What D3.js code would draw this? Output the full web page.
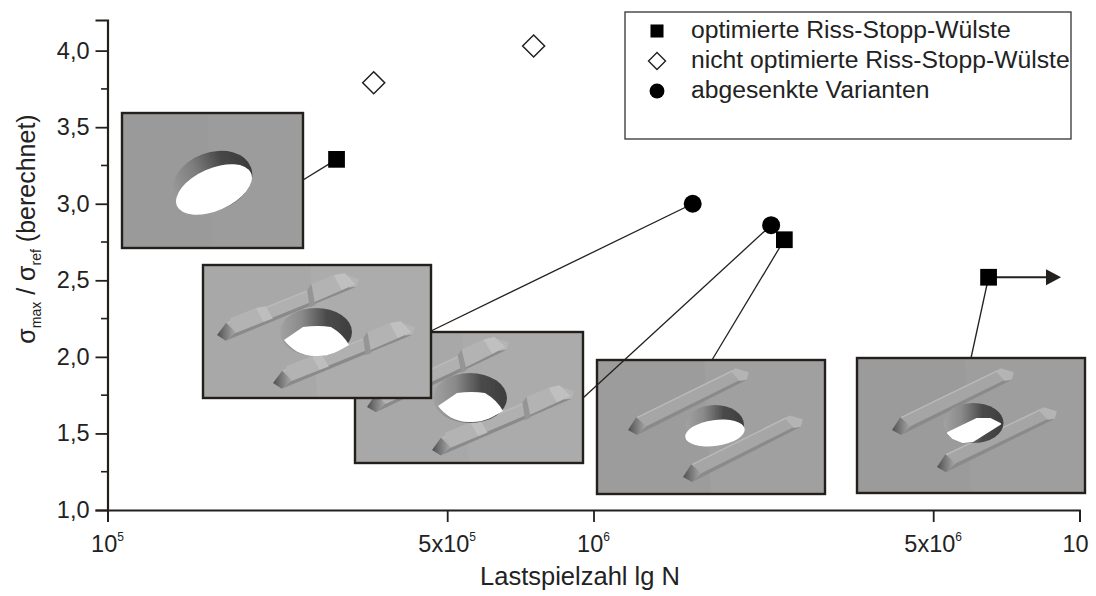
<!DOCTYPE html>
<html><head><meta charset="utf-8">
<script src="https://cdn.jsdelivr.net/npm/d3@7"></script>
<style>html,body{margin:0;padding:0;background:#fff}svg{display:block}text{font-family:"Liberation Sans",Arial,sans-serif;fill:#222}</style>
</head><body><div id="c"></div>
<script>
// ---- data ----
const squareN = [2.96e5, 2.47e6, 6.5e6];
const squareS = [3.29, 2.765, 2.52];
const diamondN = [3.53e5, 7.53e5];
const diamondS = [3.79, 4.03];
const circleN = [1.6e6, 2.32e6];
const circleS = [3.0, 2.86];
const yTicks = [1, 1.5, 2, 2.5, 3, 3.5, 4];
const yMinorTicks = [1.25, 1.75, 2.25, 2.75, 3.25, 3.75];
const xTicks = [1e5, 5e5, 1e6, 5e6, 1e7];
const xTickLabels = [["10","5"],["5x10","5"],["10","6"],["5x10","6"],["10",""]];
const legendLabels = ["optimierte Riss-Stopp-Wülste","nicht optimierte Riss-Stopp-Wülste","abgesenkte Varianten"];
const legendSymbols = ["square","diamond","circle"];

// ---- layout ----
const W = 1096, H = 596;
const svg = d3.select("#c").append("svg").attr("width",W).attr("height",H);
const x = d3.scaleLog().domain([1e5,1e7]).range([107.5,1079.5]);
const y = d3.scaleLinear().domain([1,4.2]).range([510,20]);
const dark = "#231f1c";

const defs = svg.append("defs");
const f = defs.append("filter").attr("id","soft").attr("x","-5%").attr("y","-5%").attr("width","110%").attr("height","110%");
f.append("feGaussianBlur").attr("stdDeviation",0.7);
function grad(id, stops, x2=1, y2=0){
  const g = defs.append("linearGradient").attr("id",id).attr("x1",0).attr("y1",0).attr("x2",x2).attr("y2",y2);
  stops.forEach(s=>g.append("stop").attr("offset",s[0]).attr("stop-color",s[1]));
}
grad("wall",[[0,"#a2a2a2"],[0.3,"#8a8a8a"],[0.65,"#4a4a4a"],[1,"#3e3e3e"]]);
grad("wallA",[[0,"#9a9a9a"],[0.35,"#7c7c7c"],[0.7,"#474747"],[1,"#3c3c3c"]]);
grad("cap",[[0,"#505050"],[1,"#a8a8a8"]],1,0);

// ---- pictures inside the chart ----
const whiteB = "M81,75 L100,62 Q115,60 128,62 Q140,69 146,80 C136,86 126,92 112,91 C98,91 88,84 81,75 Z";
const insets = [
 {id:"A",x:122,y:113,w:181,h:135,bg:"#9a9a9a",alt:"#9c9c9c",bars:[],pads:false,top:"#a4a4a4",
  hole:{cx:90.5,cy:68.5,rx:41,ry:29,rot:-20,wx:92,wy:76.5,wrx:40.5,wry:21,wrot:-24,fill:"wallA"}},
 {id:"C",x:355,y:332,w:228,h:131,bg:"#a8a8a8",alt:"#ababab",pads:true,top:"#b0b0b0",
  bars:[[12,75,152,11],[77,118,217,60]],
  hole:{cx:115,cy:66,rx:37,ry:25,rot:0,path:whiteB,dx:2,dy:-1,fill:"wall"}},
 {id:"B",x:203,y:265,w:228,h:133,bg:"#a8a8a8",alt:"#acacac",pads:true,top:"#b0b0b0",
  bars:[[14,70,154,15],[70,118,210,63]],
  hole:{cx:113,cy:67,rx:36,ry:24,rot:0,path:whiteB,dx:0,dy:0,fill:"wall"}},
 {id:"D",x:597,y:360,w:228,h:134,bg:"#9c9c9c",alt:"#a0a0a0",pads:false,top:"#a6a6a6",
  bars:[[31,70,150,13],[86,117,204,60]],
  hole:{cx:118,cy:65,rx:29,ry:20,rot:0,wx:118,wy:73,wrx:30,wry:13,wrot:-8,fill:"wall"}},
 {id:"E",x:857,y:358,w:228,h:135,bg:"#9b9b9b",alt:"#9e9e9e",pads:false,top:"#a5a5a5",
  bars:[[35,72,155,15],[80,109,198,54]],
  hole:{cx:116.5,cy:65,rx:30,ry:20,rot:0,slot:[[91,75],[120,61],[133,61],[143,66],[116,83],[106,84],[96,80]],fill:"wall"}}
];
function drawBar(g, b, d){
  const [x0,y0,x1,y1] = b;
  const L = Math.hypot(x1-x0,y1-y0), dx=(x1-x0)/L, dy=(y1-y0)/L, nx=dy, ny=-dx;
  const p=(t,o)=>[x0+dx*t+nx*o, y0+dy*t+ny*o];
  const poly=(pts,fill)=>g.append("polygon").attr("points",pts.join(" ")).attr("fill",fill);
  poly([p(6,-8.5),p(L-3,-6),p(L-3,-3),p(18,-4.5)],"#8a8a8a");         // long side
  poly([p(18,-4.5),p(L-3,-3),p(L-12,9),p(13,8)],d.top);                // top face
  poly([p(13,8),p(L-12,9),p(L-12,7.5),p(14,6.5)],"#b9b9b9");           // upper edge
  poly([p(L-3,-6),p(L+2,0),p(L-8,9),p(L-14,9),p(L-10,-4)],"#b4b4b4");  // far tip
  poly([p(0,0),p(6,-8.5),p(18,-4.5),p(13,8)],"url(#cap)");             // near end
  if(d.pads){
    poly([p(18,-5),p(48,-5),p(46,11),p(18,11)],"#b3b3b3");
    poly([p(48,-5),p(58,-5),p(56,9),p(46,11)],"#bebebe");
    poly([p(L-48,-5),p(L-18,-4),p(L-20,13),p(L-44,13)],"#b3b3b3");
    poly([p(L-18,-4),p(L-3,-3),p(L-9,11),p(L-20,13)],"#c0c0c0");
    poly([p(L-48,-8),p(L-44,13),p(L-50,9),p(L-54,-8)],"#959595");
  }
}
insets.forEach(d=>{
  const cid="clip"+d.id;
  defs.append("clipPath").attr("id",cid).append("rect").attr("width",d.w).attr("height",d.h);
  const o = svg.append("g").attr("transform",`translate(${d.x},${d.y})`);
  const g = o.append("g").attr("clip-path",`url(#${cid})`).append("g").attr("filter","url(#soft)");
  g.append("rect").attr("x",-2).attr("y",-2).attr("width",d.w+4).attr("height",d.h+4).attr("fill",d.bg);
  g.append("path").attr("d",`M${d.w*0.47},-2 L${d.w+2},-2 L${d.w+2},${d.h+2} L${d.w*0.5},${d.h+2} Z`).attr("fill",d.alt);
  d.bars.forEach(b=>drawBar(g,b,d));
  const h=d.hole;
  g.append("ellipse").attr("cx",h.cx).attr("cy",h.cy).attr("rx",h.rx).attr("ry",h.ry)
    .attr("transform",`rotate(${h.rot} ${h.cx} ${h.cy})`).attr("fill",`url(#${h.fill})`);
  if(h.slot){
    g.append("polygon").attr("points",h.slot.join(" ")).attr("fill","#fff").attr("stroke","#fff").attr("stroke-width",2).attr("stroke-linejoin","round");
  } else if(h.path){
    g.append("path").attr("d",h.path).attr("transform",`translate(${h.dx},${h.dy})`).attr("fill","#fff");
  } else {
    g.append("ellipse").attr("cx",h.wx).attr("cy",h.wy).attr("rx",h.wrx).attr("ry",h.wry)
     .attr("transform",`rotate(${h.wrot} ${h.wx} ${h.wy})`).attr("fill","#fff");
  }
  o.append("rect").attr("width",d.w).attr("height",d.h)
    .attr("fill","none").attr("stroke",dark).attr("stroke-width",2.4);
});

// ---- connectors from pictures to data points ----
const connectors = [
 {from:[303,180],n:squareN[0],s:squareS[0]},
 {from:[431,331],n:circleN[0],s:circleS[0]},
 {from:[583,398],n:circleN[1],s:circleS[1]},
 {from:[712,360],n:squareN[1],s:squareS[1]},
 {from:[971,358],n:squareN[2],s:squareS[2]}
];
svg.append("g").selectAll("line").data(connectors).join("line")
  .attr("x1",d=>d.from[0]).attr("y1",d=>d.from[1]).attr("x2",d=>x(d.n)).attr("y2",d=>y(d.s))
  .attr("stroke",dark).attr("stroke-width",1.3);

// run-out arrow
const ay = y(squareS[2]);
svg.append("line").attr("x1",x(squareN[2])).attr("x2",1048).attr("y1",ay).attr("y2",ay).attr("stroke",dark).attr("stroke-width",1.8);
svg.append("path").attr("d",`M1046,${ay-8} L1061,${ay} L1046,${ay+8} Z`).attr("fill",dark);

// ---- axes ----
const tickFont = 23.5;
const yAxis = svg.append("g").attr("transform","translate(107.5,0)")
  .call(d3.axisLeft(y).tickValues(yTicks).tickSize(12).tickFormat(d=>d3.format(".1f")(d).replace(".",",")));
yAxis.select(".domain").attr("stroke",dark).attr("stroke-width",2.2);
yAxis.selectAll(".tick line").attr("stroke",dark).attr("stroke-width",1.8);
yAxis.selectAll("text").attr("font-size",tickFont).attr("fill","#222").attr("font-family",'"Liberation Sans",Arial,sans-serif').attr("x",-18);
svg.append("g").selectAll("line").data(yMinorTicks).join("line")
  .attr("x1",101).attr("x2",107.5).attr("y1",d=>y(d)).attr("y2",d=>y(d)).attr("stroke",dark).attr("stroke-width",1.6);

const xAxis = svg.append("g").attr("transform","translate(0,510)")
  .call(d3.axisBottom(x).tickValues(xTicks).tickSize(12).tickFormat(""));
xAxis.select(".domain").attr("stroke",dark).attr("stroke-width",1.8);
xAxis.selectAll(".tick line").attr("stroke",dark).attr("stroke-width",1.8);
xAxis.selectAll(".tick text").remove();
const xl = svg.append("g").selectAll("text").data(xTicks).join("text")
  .attr("x",(d,i)=>i===4?x(d)-4:x(d)).attr("y",552).attr("text-anchor","middle").attr("font-size",tickFont);
xl.append("tspan").text((d,i)=>xTickLabels[i][0]);
xl.append("tspan").attr("font-size",12).attr("dy",-11).text((d,i)=>xTickLabels[i][1]);

svg.append("text").attr("x",580).attr("y",585).attr("text-anchor","middle").attr("font-size",25.5).text("Lastspielzahl lg N");
const yl = svg.append("text").attr("transform","translate(35,229) rotate(-90)").attr("text-anchor","middle").attr("font-size",25);
yl.append("tspan").text("σ");
yl.append("tspan").attr("font-size",14).attr("dy",6).text("max");
yl.append("tspan").attr("dy",-6).text(" / σ");
yl.append("tspan").attr("font-size",14).attr("dy",6).text("ref");
yl.append("tspan").attr("dy",-6).text(" (berechnet)");

// ---- marks ----
const sym = {
  square:d3.symbol(d3.symbolSquare,280)(),
  circle:d3.symbol(d3.symbolCircle,255)(),
  diamond:"M0,-11 L11,0 L0,11 L-11,0 Z"
};
const zipPts=(a,b)=>a.map((v,i)=>[v,b[i]]);
svg.append("g").selectAll("path").data(zipPts(diamondN,diamondS)).join("path")
  .attr("d",sym.diamond).attr("transform",d=>`translate(${x(d[0])},${y(d[1])})`)
  .attr("fill","#fff").attr("stroke",dark).attr("stroke-width",1.5);
svg.append("g").selectAll("path").data(zipPts(circleN,circleS)).join("path")
  .attr("d",sym.circle).attr("transform",d=>`translate(${x(d[0])},${y(d[1])})`).attr("fill","#000");
svg.append("g").selectAll("path").data(zipPts(squareN,squareS)).join("path")
  .attr("d",sym.square).attr("transform",d=>`translate(${x(d[0])},${y(d[1])})`).attr("fill","#000");

// ---- legend ----
const lg = svg.append("g");
lg.append("rect").attr("x",625).attr("y",12).attr("width",446).attr("height",127).attr("fill","#fff").attr("stroke","#333").attr("stroke-width",1.3);
const legendSym = {
  square:d3.symbol(d3.symbolSquare,170)(),
  circle:d3.symbol(d3.symbolCircle,175)(),
  diamond:"M0,-8.5 L8.5,0 L0,8.5 L-8.5,0 Z"
};
legendLabels.forEach((t,i)=>{
  const ly = 31+i*30;
  lg.append("path").attr("d",legendSym[legendSymbols[i]]).attr("transform",`translate(657,${ly})`)
    .attr("fill",legendSymbols[i]==="diamond"?"#fff":"#000").attr("stroke",legendSymbols[i]==="diamond"?dark:"none").attr("stroke-width",1.4);
  lg.append("text").attr("x",691).attr("y",ly+7).attr("font-size",24.7).text(t);
});
</script></body></html>
